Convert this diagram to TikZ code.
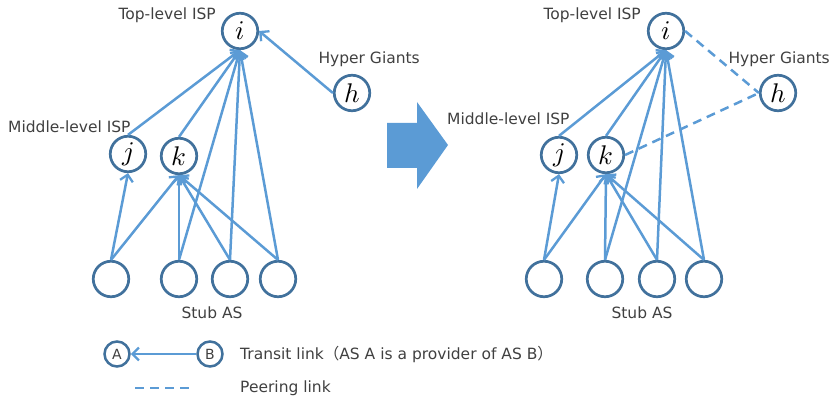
\documentclass[tikz,border=0pt]{standalone}
\usepackage{fontspec}
\usepackage{unicode-math}
\setmainfont{DejaVu Sans}
\setmathfont{Latin Modern Math}
\newfontfamily\cjkparen{Noto Sans CJK JP}
\usetikzlibrary{arrows.meta}
\definecolor{ringblue}{HTML}{41719C}
\definecolor{linkblue}{HTML}{5B9BD5}
\definecolor{txtgray}{HTML}{404040}
\tikzset{
  asnode/.style={circle, draw=ringblue, line width=2.7pt, fill=white, inner sep=0pt,
    minimum size=35.5pt, font=\fontsize{27}{27}\selectfont},
  legnode/.style={circle, draw=ringblue, line width=2.5pt, fill=white, inner sep=0pt,
    minimum size=25pt, text=txtgray, font=\fontsize{14}{14}\selectfont},
  transit/.style={draw=linkblue, line width=2.5pt,
    -{Straight Barb[length=6.5pt,width=13pt,line width=2.3pt]}},
  peering/.style={draw=linkblue, line width=2.5pt, dash pattern=on 9pt off 6pt},
  lbl/.style={text=txtgray, inner sep=0pt, font=\fontsize{15.5}{15.5}\selectfont}
}
\begin{document}
\begin{tikzpicture}[x=1pt, y=-1pt]
\useasboundingbox (0,0) rectangle (833,398);

% ---- before: all links are transit links ----
\node[asnode] (i1) at (240,31) {$i$};
\node[asnode] (h1) at (352,93) {$h$};
\node[asnode] (j1) at (128,154) {$j$};
\node[asnode] (k1) at (179,156) {$k$};
\node[asnode] (s11) at (111,279) {};
\node[asnode] (s12) at (179,279) {};
\node[asnode] (s13) at (230,279) {};
\node[asnode] (s14) at (278,279) {};

\draw[transit] (h1.west) -- (i1.east);
\draw[transit] (j1.north) -- (i1.south);
\draw[transit] (k1.north) -- (i1.south);
\draw[transit] (s11.north) -- (j1.south);
\foreach \s in {s11,s12,s13,s14} \draw[transit] (\s.north) -- (k1.south);
\foreach \s in {s12,s13,s14} \draw[transit] (\s.north) -- (i1.south);

\node[lbl, anchor=east] (t1) at (216,15) {Top-level ISP};
\node[lbl, anchor=east] (g1) at (420,59) {Hyper Giants};
\node[lbl, anchor=west] (m1) at (8,127) {Middle-level ISP};
\node[lbl] (u1) at (212,313) {Stub AS};

% ---- transition arrow ----
\fill[linkblue] (387,123) -- (417,123) -- (417,102) -- (448,145)
  -- (417,189) -- (417,168) -- (387,168) -- cycle;

% ---- after: hyper giant peers with i and k ----
\node[asnode] (i2) at (666,31) {$i$};
\node[asnode] (h2) at (778,93) {$h$};
\node[asnode] (j2) at (559,155) {$j$};
\node[asnode] (k2) at (606,155) {$k$};
\node[asnode] (s21) at (544,279) {};
\node[asnode] (s22) at (605,279) {};
\node[asnode] (s23) at (657,279) {};
\node[asnode] (s24) at (704,279) {};

\draw[peering] (i2.east) -- (h2.west);
\draw[peering] (k2.east) -- (h2.west);
\draw[transit] (j2.north) -- (i2.south);
\draw[transit] (k2.north) -- (i2.south);
\draw[transit] (s21.north) -- (j2.south);
\foreach \s in {s21,s22,s23,s24} \draw[transit] (\s.north) -- (k2.south);
\foreach \s in {s22,s23,s24} \draw[transit] (\s.north) -- (i2.south);

\node[lbl, anchor=east] (t2) at (641,15) {Top-level ISP};
\node[lbl, anchor=east] (g2) at (830,59) {Hyper Giants};
\node[lbl, anchor=west] (m2) at (447,119) {Middle-level ISP};
\node[lbl] (u2) at (642,313) {Stub AS};

% ---- legend ----
\node[legnode] (la) at (117,354) {A};
\node[legnode] (lb) at (210,354) {B};
\draw[transit] (lb.west) -- (la.east);
\node[lbl, anchor=west] (lt) at (240,354) {Transit link{\cjkparen （}AS A is a provider of AS B{\cjkparen ）}};
\coordinate (pa) at (135,388);
\coordinate (pb) at (193,388);
\draw[peering] (pa) -- (pb);
\node[lbl, anchor=west] (lp) at (240,388) {Peering link};
\end{tikzpicture}
\end{document}
